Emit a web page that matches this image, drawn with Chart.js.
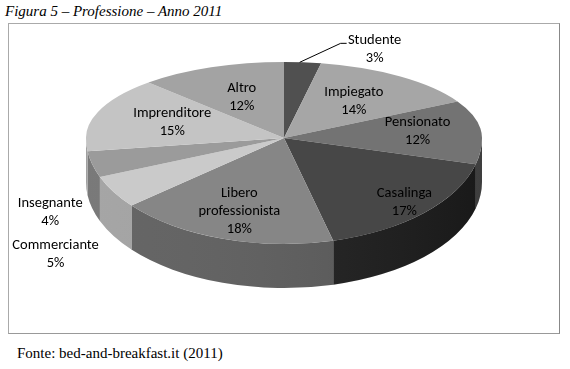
<!DOCTYPE html>
<html>
<head>
<meta charset="utf-8">
<script src="https://cdn.jsdelivr.net/npm/chart.js@4"></script>
<style>
  html, body { margin: 0; padding: 0; background: #fff; }
  body { width: 570px; height: 369px; position: relative; overflow: hidden; }
  #title { position: absolute; left: 5px; top: 3px; font: italic 15px/16px "Liberation Serif", "Times New Roman", serif; color: #000; }
  #frame { position: absolute; left: 8px; top: 23px; width: 552px; height: 311px; box-sizing: border-box;
           border: 1px solid #aaa; border-right-color: #888; border-bottom-color: #999; }
  #source { position: absolute; left: 17px; top: 345px; font: 15px/16px "Liberation Serif", "Times New Roman", serif; color: #000; }
  #chart { position: absolute; left: 0; top: 0; }
</style>
</head>
<body>
<div id="title">Figura 5 – Professione – Anno 2011</div>
<div id="frame"></div>
<div id="source">Fonte: bed-and-breakfast.it (2011)</div>
<canvas id="chart" width="570" height="369"></canvas>
<script>
const categories = ["Studente", "Impiegato", "Pensionato", "Casalinga", "Libero professionista",
  "Commerciante", "Insegnante", "Imprenditore", "Altro"];
const shares = [3, 14, 12, 17, 18, 5, 4, 15, 12];
const sliceColors = ["#505050", "#a6a6a6", "#737373", "#474747", "#868686",
  "#cacaca", "#9b9b9b", "#c4c4c4", "#a3a3a3"];

// geometry of the tilted pie (apex, radii of the top face, thickness)
const CX = 284, CY = 138, RX = 198, RY_TOP = 76, RY_BOT = 106, DEPTH = 44;

// where each label sits: r = fraction of the radius, or an offset from the rim
const labelPlacement = [
  { dx: 72, dy: -13, leader: true },
  { r: 0.6 }, { r: 0.68 }, { r: 0.86 }, { r: 0.73 },
  { dx: -58, dy: 62 }, { dx: -42, dy: 48 },
  { r: 0.6 }, { r: 0.58 },
];

function shade(hex, amt) {
  const v = Math.max(0, Math.min(255, parseInt(hex.slice(1, 3), 16) + amt));
  return `rgb(${v},${v},${v})`;
}

function rim(m, f) {
  const s = Math.sin(m);
  return { x: CX + f * RX * Math.cos(m), y: CY + f * (s < 0 ? RY_TOP : RY_BOT) * s };
}

const pie3d = {
  id: "pie3d",
  beforeDatasetsDraw(chart) {
    const ctx = chart.ctx;
    const arcs = chart.getDatasetMeta(0).data;
    const R = arcs[0].outerRadius, ox = arcs[0].x, oy = arcs[0].y;

    // front wall
    arcs.forEach((arc) => {
      const lo = Math.max(arc.startAngle, 0), hi = Math.min(arc.endAngle, Math.PI);
      if (hi <= lo) return;
      ctx.beginPath();
      ctx.ellipse(CX, CY, RX, RY_BOT, 0, lo, hi);
      ctx.ellipse(CX, CY + DEPTH, RX, RY_BOT, 0, hi, lo, true);
      ctx.closePath();
      ctx.fillStyle = shade(arc.options.backgroundColor, -42);
      ctx.fill();
    });
    ctx.beginPath();
    ctx.ellipse(CX, CY, RX, RY_BOT, 0, 0, Math.PI);
    ctx.ellipse(CX, CY + DEPTH, RX, RY_BOT, 0, Math.PI, 0, true);
    ctx.closePath();
    const g = ctx.createLinearGradient(CX - RX, 0, CX + RX, 0);
    g.addColorStop(0, "rgba(255,255,255,0.06)");
    g.addColorStop(1, "rgba(0,0,0,0.15)");
    ctx.fillStyle = g;
    ctx.fill();

    // top face, back half flatter than front half
    [[0, CY, RY_TOP], [CY, chart.height, RY_BOT]].forEach(([y0, y1, ry]) => {
      ctx.save();
      ctx.beginPath();
      ctx.rect(0, y0, chart.width, y1 - y0);
      ctx.clip();
      ctx.translate(CX, CY);
      ctx.scale(RX / R, ry / R);
      ctx.translate(-ox, -oy);
      arcs.forEach((a) => a.draw(ctx));
      ctx.restore();
    });
    return false;
  },
  afterDraw(chart) {
    const ctx = chart.ctx;
    const arcs = chart.getDatasetMeta(0).data;
    ctx.save();
    ctx.font = "14.5px Carlito, Lato, sans-serif";
    ctx.fillStyle = "#000";
    ctx.textAlign = "center";
    ctx.textBaseline = "middle";
    arcs.forEach((arc, i) => {
      const m = (arc.startAngle + arc.endAngle) / 2;
      const p = labelPlacement[i];
      let pos;
      if (p.r) {
        pos = rim(m, p.r);
      } else {
        const a = rim(m, 1);
        pos = { x: a.x + p.dx, y: a.y + p.dy };
        if (p.leader) {
          ctx.strokeStyle = "#000";
          ctx.lineWidth = 1;
          ctx.beginPath();
          ctx.moveTo(a.x - 3, a.y);
          ctx.lineTo(a.x + 38, a.y - 19);
          ctx.lineTo(a.x + 44, a.y - 19);
          ctx.stroke();
        }
      }
      const name = categories[i];
      const lines = name.length > 13 ? name.split(" ") : [name];
      lines.push(shares[i] + "%");
      const lh = 18;
      const top = pos.y - (lh * (lines.length - 1)) / 2;
      lines.forEach((t, k) => ctx.fillText(t, pos.x, top + k * lh));
    });
    ctx.restore();
  },
};

new Chart(document.getElementById("chart"), {
  type: "pie",
  data: {
    labels: categories,
    datasets: [{ data: shares, backgroundColor: sliceColors, borderWidth: 0 }],
  },
  options: {
    responsive: false,
    animation: false,
    events: [],
    plugins: { legend: { display: false }, tooltip: { enabled: false } },
  },
  plugins: [pie3d],
});
</script>
</body>
</html>
